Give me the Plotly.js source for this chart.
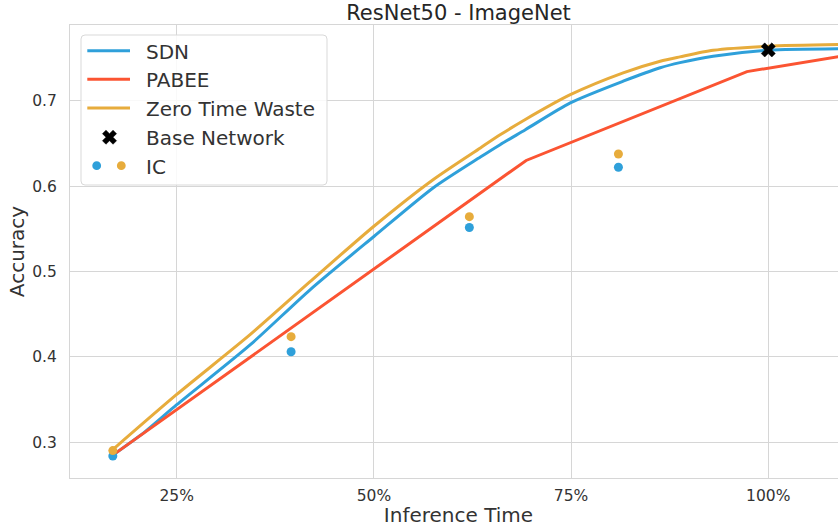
<!DOCTYPE html>
<html>
<head>
<meta charset="utf-8">
<script src="https://cdn.plot.ly/plotly-3.0.1.min.js"></script>
<style>
  html, body { margin: 0; padding: 0; overflow: hidden; background: #fff; }
  #chart { width: 847px; height: 527px; }
</style>
</head>
<body>
<div id="chart"></div>
<script>
// ---------------- data ----------------
const sdnX = [0.169, 0.21, 0.25, 0.343, 0.419, 0.5, 0.575, 0.635, 0.66, 0.692, 0.749, 0.816, 0.863, 0.888, 0.93, 1.0, 1.1];
const sdnY = [0.285, 0.3125, 0.344, 0.414, 0.4786, 0.541, 0.5978, 0.634, 0.6485, 0.666, 0.6974, 0.7228, 0.7385, 0.7445, 0.752, 0.759, 0.7608];

const pabeeX = [0.169, 0.693, 0.973, 1.1];
const pabeeY = [0.285, 0.630, 0.734, 0.7532];

const ztwX = [0.169, 0.25, 0.343, 0.419, 0.5, 0.575, 0.635, 0.66, 0.692, 0.749, 0.816, 0.863, 0.888, 0.93, 1.0, 1.1];
const ztwY = [0.2915, 0.356, 0.426, 0.488, 0.553, 0.6075, 0.6447, 0.660, 0.678, 0.707, 0.7326, 0.7462, 0.7513, 0.759, 0.7638, 0.7659];

const icX = [0.169, 0.395, 0.621, 0.81];
const icSdnY = [0.284, 0.406, 0.5515, 0.622];
const icZtwY = [0.2903, 0.4237, 0.5642, 0.6375];

const baseX = [1.0];
const baseY = [0.7594];

const xTickVals = [0.25, 0.5, 0.75, 1.0];
const xTickText = ['25%', '50%', '75%', '100%'];
const yTickVals = [0.3, 0.4, 0.5, 0.6, 0.7];
const yTickText = ['0.3', '0.4', '0.5', '0.6', '0.7'];

const seriesNames = ['SDN', 'PABEE', 'Zero Time Waste', 'Base Network', 'IC'];
const titleText = 'ResNet50 - ImageNet';
const xTitle = 'Inference Time';
const yTitle = 'Accuracy';

// ---------------- style ----------------
const BLUE = '#2fa0da';
const RED = '#fb5432';
const ORANGE = '#e7ac3c';
const GRID = '#d6d6d6';
const TXT = '#333333';
const FONT = 'DejaVu Sans';

const W = 847, H = 527, ML = 70, MR = 0, MT = 25, MB = 49;
const PW = W - ML - MR, PH = H - MT - MB;
const px = v => (v - ML) / PW;          // pixel x -> paper x
const py = v => (H - MB - v) / PH;      // pixel y -> paper y

const traces = [
  { x: sdnX, y: sdnY, mode: 'lines', name: seriesNames[0], line: { color: BLUE, width: 3, shape: 'spline', smoothing: 0.7 }, showlegend: false },
  { x: pabeeX, y: pabeeY, mode: 'lines', name: seriesNames[1], line: { color: RED, width: 3 }, showlegend: false },
  { x: ztwX, y: ztwY, mode: 'lines', name: seriesNames[2], line: { color: ORANGE, width: 3, shape: 'spline', smoothing: 0.7 }, showlegend: false },
  { x: icX, y: icSdnY, mode: 'markers', name: 'IC SDN', marker: { color: BLUE, size: 9 }, showlegend: false },
  { x: icX, y: icZtwY, mode: 'markers', name: 'IC ZTW', marker: { color: ORANGE, size: 9 }, showlegend: false },
  { x: baseX, y: baseY, mode: 'markers', name: seriesNames[3], marker: { color: '#000', size: 12.5, symbol: 'x', line: { color: '#000', width: 0.5 } }, showlegend: false }
];

// ---------------- manual legend ----------------
const LX0 = 81, LX1 = 327, LY0 = 35, LY1 = 185, R = 4;
const boxPath = `M ${px(LX0 + R)},${py(LY0)} L ${px(LX1 - R)},${py(LY0)} Q ${px(LX1)},${py(LY0)} ${px(LX1)},${py(LY0 + R)} ` +
  `L ${px(LX1)},${py(LY1 - R)} Q ${px(LX1)},${py(LY1)} ${px(LX1 - R)},${py(LY1)} L ${px(LX0 + R)},${py(LY1)} ` +
  `Q ${px(LX0)},${py(LY1)} ${px(LX0)},${py(LY1 - R)} L ${px(LX0)},${py(LY0 + R)} Q ${px(LX0)},${py(LY0)} ${px(LX0 + R)},${py(LY0)} Z`;

const rowY = [50.7, 79.3, 108, 137.2, 165.7];
const shapes = [
  { type: 'path', xref: 'paper', yref: 'paper', path: boxPath, fillcolor: 'rgba(255,255,255,0.85)', line: { color: '#d9d9d9', width: 1 }, layer: 'above' }
];
[BLUE, RED, ORANGE].forEach((c, i) => {
  shapes.push({ type: 'line', xref: 'paper', yref: 'paper', x0: px(87.3), x1: px(130), y0: py(rowY[i]), y1: py(rowY[i]),
    line: { color: c, width: 3 }, layer: 'above' });
});
// X glyph (same geometry as plotly 'x' symbol)
(function () {
  const cx = 109.5, cy = rowY[3], rx = 0.283 * 12.5;
  const pts = [[0, rx], [rx, 2 * rx], [2 * rx, rx], [rx, 0], [2 * rx, -rx], [rx, -2 * rx], [0, -rx], [-rx, -2 * rx], [-2 * rx, -rx], [-rx, 0], [-2 * rx, rx], [-rx, 2 * rx]];
  const p = pts.map((q, k) => (k ? 'L ' : 'M ') + px(cx + q[0]) + ',' + py(cy + q[1])).join(' ') + ' Z';
  shapes.push({ type: 'path', xref: 'paper', yref: 'paper', path: p, fillcolor: '#000', line: { color: '#000', width: 0.5 }, layer: 'above' });
})();
[[96.7, BLUE], [121.3, ORANGE]].forEach(([cx, c]) => {
  const r = 4.4;
  shapes.push({ type: 'circle', xref: 'paper', yref: 'paper', x0: px(cx - r), x1: px(cx + r), y0: py(rowY[4] + r), y1: py(rowY[4] - r),
    fillcolor: c, line: { width: 0 }, layer: 'above' });
});

const annotations = seriesNames.map((n, i) => ({
  text: n, xref: 'paper', yref: 'paper', x: px(143.5), y: py(rowY[i] + 1), xanchor: 'left', yanchor: 'middle',
  showarrow: false, font: { family: FONT, size: 20, color: TXT }
}));

const axisCommon = {
  showgrid: true, gridcolor: GRID, gridwidth: 1, zeroline: false,
  showline: true, linecolor: GRID, linewidth: 1, mirror: true,
  ticks: '', tickfont: { family: FONT, size: 15.5, color: TXT }, automargin: false
};

const layout = {
  width: W, height: H,
  margin: { l: ML, r: MR, t: MT, b: MB, pad: 0 },
  paper_bgcolor: '#fff', plot_bgcolor: '#fff',
  showlegend: false,
  title: { text: titleText, x: 0.5, xref: 'paper', xanchor: 'center', y: 1 - 12.5 / H, yref: 'container', yanchor: 'middle',
    font: { family: FONT, size: 21, color: '#262626' } },
  xaxis: Object.assign({}, axisCommon, {
    range: [0.1147, 1.0998], tickmode: 'array', tickvals: xTickVals, ticktext: xTickText, ticklabelstandoff: 3,
    title: { text: xTitle, font: { family: FONT, size: 20, color: TXT }, standoff: 8 }
  }),
  yaxis: Object.assign({}, axisCommon, {
    range: [0.2582, 0.7886], tickmode: 'array', tickvals: yTickVals, ticktext: yTickText, ticklabelstandoff: 9,
    title: { text: yTitle, font: { family: FONT, size: 20, color: TXT }, standoff: 2 }
  }),
  shapes: shapes,
  annotations: annotations
};

Plotly.newPlot('chart', traces, layout, { displayModeBar: false, staticPlot: true });
</script>
</body>
</html>
